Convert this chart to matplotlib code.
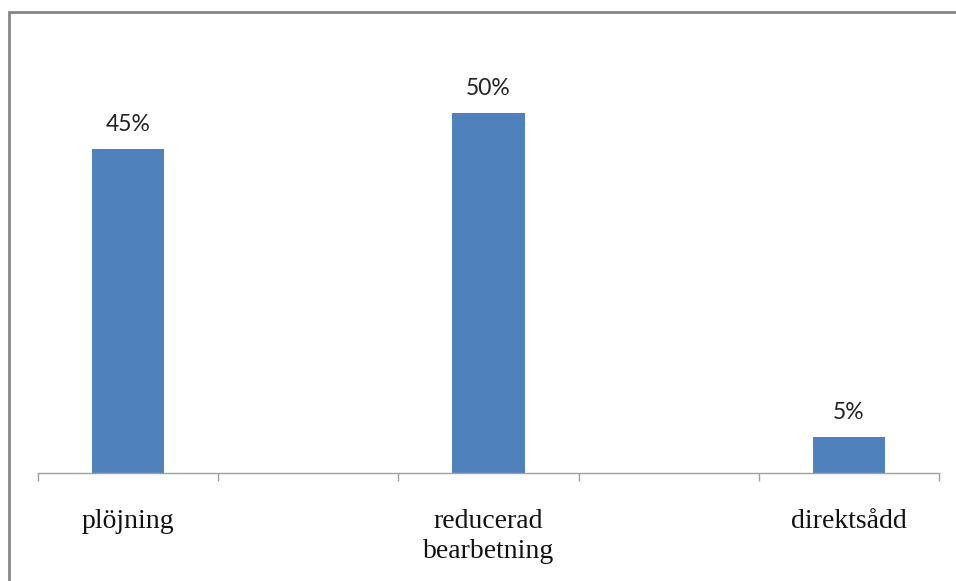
import matplotlib.pyplot as plt
import numpy as np
from matplotlib.patches import Rectangle

# Five category slots; the empty slots keep the spacing between the three bars
categories = ["plöjning", "", "reducerad\nbearbetning", "", "direktsådd"]
shares = [0.45, np.nan, 0.50, np.nan, 0.05]
share_labels = ["45%", "", "50%", "", "5%"]

W, H = 956, 581
fig = plt.figure(figsize=(W / 100, H / 100), dpi=100)

# Grey frame around the chart area (open at the right and bottom edges)
fig.patches.append(Rectangle((9 / W, -0.1), 1.2, 1 - 12 / H + 0.1,
                             transform=fig.transFigure, fill=False,
                             edgecolor="#878787", linewidth=2))

ax = fig.add_axes([38 / W, (H - 473) / H, (939 - 38) / W, 432 / H])

x = np.arange(len(categories))
ax.bar(x, shares, width=0.4, color="#4F81BD", zorder=2)

for xi, v, lab in zip(x, shares, share_labels):
    if lab:
        ax.text(xi, v + 0.02, lab, ha="center", va="bottom",
                fontsize=16.5, family="Lato", color="#222222")

ax.set_xlim(-0.5, len(categories) - 0.5)
ax.set_ylim(0, 0.6)

for side in ("top", "right", "left"):
    ax.spines[side].set_visible(False)
ax.spines["bottom"].set_color("#A0A0A0")
ax.spines["bottom"].set_linewidth(1)

ax.set_yticks([])
# Tick marks sit on the boundaries between categories
ax.set_xticks(np.arange(-0.5, len(categories), 1.0))
ax.set_xticklabels([])
ax.tick_params(axis="x", direction="out", length=6, width=1, color="#A0A0A0")

for xi, cat in zip(x, categories):
    if cat:
        ax.text(xi, -0.05, cat, ha="center", va="top", fontsize=20,
                family="Liberation Serif", color="#111111", linespacing=1.25)

fig.savefig("out.png", dpi=100)
